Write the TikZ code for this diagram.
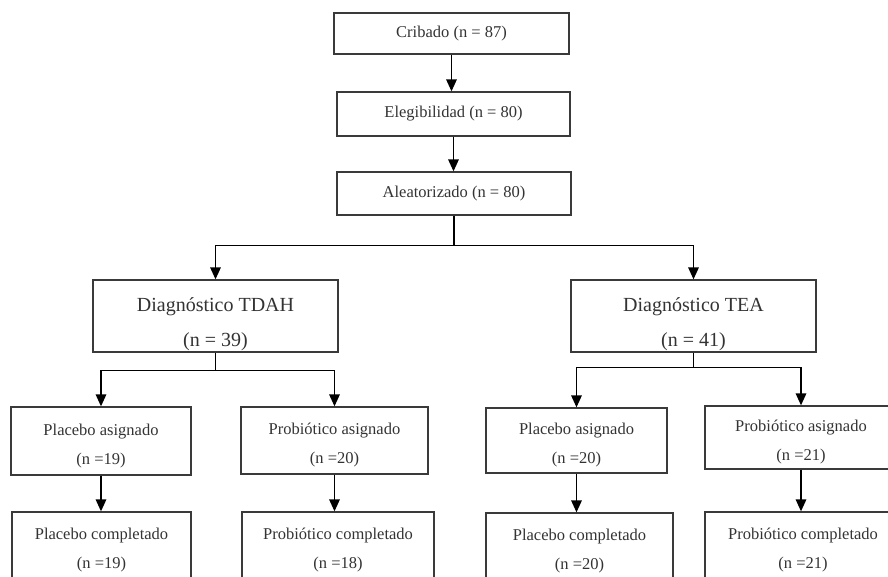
\documentclass[tikz,border=0pt]{standalone}
\usepackage{fontspec}
\setmainfont{Liberation Serif}
\usetikzlibrary{arrows.meta,calc}
\definecolor{boxline}{HTML}{3A3A3A}
\definecolor{txt}{HTML}{333333}
\newcommand{\strutA}{\rule{0pt}{20.6pt}}
\newcommand{\strutB}{\rule{0pt}{29.3pt}}
\begin{document}
\begin{tikzpicture}[x=1pt,y=-1pt,
  box/.style={draw=boxline,line width=1.3pt,rectangle,inner sep=0pt,align=center,text=txt,
    font=\fontsize{16.5}{29}\selectfont},
  bigbox/.style={box,font=\fontsize{20}{35}\selectfont},
  conn/.style={draw=black,line width=1.6pt},
  arr/.style={conn,-{Triangle[width=10.5pt,length=12pt]}}]
\useasboundingbox (0,0) rectangle (888,576);
\clip (0,0) rectangle (888,576);
\fill[white] (0,0) rectangle (888,576);
% top chain
\node[box,minimum width=235pt,minimum height=41pt] (cri) at (451.5,33.5) {Cribado (n = 87)};
\node[box,minimum width=233pt,minimum height=44pt] (ele) at (453.5,114) {Elegibilidad (n = 80)};
\node[box,minimum width=234pt,minimum height=43pt] (ale) at (454,193.5) {Aleatorizado (n = 80)};
% diagnosis
\node[bigbox,minimum width=245pt,minimum height=72pt] (tdah) at (215.5,316) {\strutB Diagnóstico TDAH\\(n = 39)};
\node[bigbox,minimum width=245pt,minimum height=72pt] (tea) at (693.5,316) {\strutB Diagnóstico TEA\\(n = 41)};
% assigned
\node[box,minimum width=180pt,minimum height=68pt] (pa1) at (101,441) {\strutA Placebo asignado\\(n =19)};
\node[box,minimum width=187pt,minimum height=67pt] (pr1) at (334.5,440.5) {\strutA Probiótico asignado\\(n =20)};
\node[box,minimum width=181pt,minimum height=65pt] (pa2) at (576.5,440.5) {\strutA Placebo asignado\\(n =20)};
\node[box,minimum width=192pt,minimum height=63pt] (pr2) at (801,437.5) {\strutA Probiótico asignado\\(n =21)};
% completed
\node[box,minimum width=179pt,minimum height=66pt] (pc1) at (101.5,545) {\strutA Placebo completado\\(n =19)};
\node[box,minimum width=192pt,minimum height=66pt] (prc1) at (338,545) {\strutA Probiótico completado\\(n =18)};
\node[box,minimum width=187pt,minimum height=66pt] (pc2) at (579.5,546) {\strutA Placebo completado\\(n =20)};
\node[box,minimum width=196pt,minimum height=66pt] (prc2) at (803,545) {\strutA Probiótico completado\\(n =21)};
% connectors
\draw[arr] (cri.south) -- (cri.south |- ele.north);
\draw[arr] (ele.south) -- (ele.south |- ale.north);
\coordinate (j1) at ($(ale.south)+(0,30)$);
\draw[conn] (ale.south) -- (j1);
\draw[arr] (j1) -| (tdah.north);
\draw[arr] (j1) -| (tea.north);
\coordinate (j2) at ($(tdah.south)+(0,18)$);
\draw[conn] (tdah.south) -- (j2);
\draw[arr] (j2) -| (pa1.north);
\draw[arr] (j2) -| (pr1.north);
\coordinate (j3) at ($(tea.south)+(0,15)$);
\draw[conn] (tea.south) -- (j3);
\draw[arr] (j3) -| (pa2.north);
\draw[arr] (j3) -| (pr2.north);
\draw[arr] (pa1.south) -- (pa1.south |- pc1.north);
\draw[arr] (pr1.south) -- (pr1.south |- prc1.north);
\draw[arr] (pa2.south) -- (pa2.south |- pc2.north);
\draw[arr] (pr2.south) -- (pr2.south |- prc2.north);
\end{tikzpicture}
\end{document}
